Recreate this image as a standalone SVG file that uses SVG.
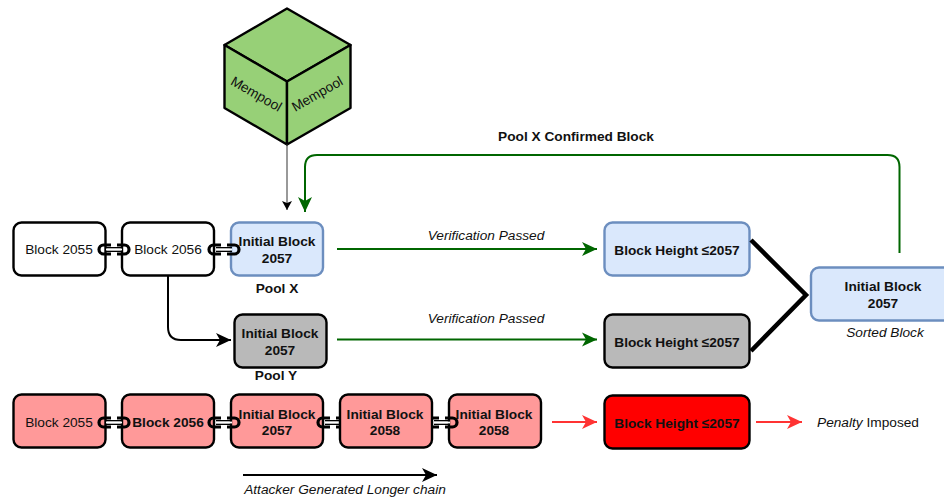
<svg xmlns="http://www.w3.org/2000/svg" width="944" height="500" viewBox="0 0 944 500">
<style>
text{font-family:"Liberation Sans",Arial,sans-serif;font-size:13.7px;fill:#111;text-anchor:middle}
.b{font-weight:bold}
.i{font-style:italic}
.box{stroke:#000;stroke-width:2.4}
.white{fill:#fff}
.blue{fill:#dae8fc;stroke:#6c8ebf}
.gray{fill:#b9b9b9}
.pink{fill:#ff9999}
.red{fill:#ff0000}
.cube{fill:#97d077;stroke:#000;stroke-width:2.4;stroke-linejoin:round}
.g{fill:none;stroke:#006600;stroke-width:2}
.r{fill:none;stroke:#ff3333;stroke-width:2}
.k{fill:none;stroke:#000;stroke-width:2}
</style>
<defs>
<marker id="ag" markerUnits="userSpaceOnUse" markerWidth="16" markerHeight="16" refX="15" refY="7.500" orient="auto"><path d="M0 0.500L15 7.500L0 14.500L4 7.500Z" fill="#006600"/></marker>
<marker id="ar" markerUnits="userSpaceOnUse" markerWidth="16" markerHeight="16" refX="15" refY="7" orient="auto"><path d="M0 0L15 7L0 14L4 7Z" fill="#ff3333"/></marker>
<marker id="ak" markerUnits="userSpaceOnUse" markerWidth="16" markerHeight="16" refX="15" refY="7" orient="auto"><path d="M0 0L15 7L0 14L4 7Z" fill="#000"/></marker>
<marker id="as" markerUnits="userSpaceOnUse" markerWidth="10" markerHeight="12" refX="9" refY="5" orient="auto"><path d="M0 0L9 5L0 10L2 5Z" fill="#000"/></marker>
<g id="lnk">
<path d="M13 1H5.500a4.500 4.500 0 0 0 0 9H13M19 1H26.500a4.500 4.500 0 0 1 0 9H19" fill="none" stroke="#000" stroke-width="3.200"/>
<path d="M8 3.800H24M8 7.200H24" stroke="#000" stroke-width="1.600"/>
<line x1="8" y1="5.500" x2="24" y2="5.500" stroke="#fff" stroke-width="1.800"/>
</g>
</defs>

<g id="mempool">
<path class="cube" d="M287 8.500L350.500 45L287 81.500L224.500 45Z"/>
<path class="cube" d="M224.500 45L287 81.500V144.500L224.500 108Z"/>
<path class="cube" d="M350.500 45L287 81.500V144.500L350.500 108Z"/>
<text transform="translate(256 94.500) rotate(30)" y="4">Mempool</text>
<text transform="translate(317.500 94.500) rotate(-30)" y="4">Mempool</text>
</g>

<g id="b2055a"><rect class="box white" x="13.500" y="222.500" width="92" height="53" rx="8"/><text x="59" y="254">Block 2055</text></g>
<g id="b2056a"><rect class="box white" x="122" y="222.500" width="92" height="53" rx="8"/><text x="168" y="254">Block 2056</text></g>
<g id="b2057x"><rect class="box blue" x="231" y="222.500" width="92" height="53" rx="8"/><text class="b" x="277" y="246">Initial Block</text><text class="b" x="277" y="263">2057</text></g>
<g id="poolx"><text class="b" x="277" y="293">Pool X</text></g>
<g id="b2057y"><rect class="box gray" x="234.500" y="314.500" width="92" height="53" rx="8"/><text class="b" x="280" y="338">Initial Block</text><text class="b" x="280" y="355">2057</text></g>
<g id="pooly"><text class="b" x="276" y="380">Pool Y</text></g>
<g id="hx"><rect class="box blue" x="604.500" y="222.500" width="145" height="53" rx="8"/><text class="b" x="677" y="255">Block Height ≤2057</text></g>
<g id="hy"><rect class="box gray" x="604.500" y="314.500" width="145" height="53" rx="8"/><text class="b" x="677" y="347">Block Height ≤2057</text></g>
<g id="sorted"><rect class="box blue" x="811" y="267.500" width="145" height="53" rx="8"/><text class="b" x="883" y="291">Initial Block</text><text class="b" x="883" y="308">2057</text><text class="i" x="885" y="337">Sorted Block</text></g>

<g id="r2055"><rect class="box pink" x="13.500" y="394.500" width="92" height="53" rx="8"/><text x="59" y="427">Block 2055</text></g>
<g id="r2056"><rect class="box pink" x="122" y="394.500" width="92" height="53" rx="8"/><text class="b" x="168" y="427">Block 2056</text></g>
<g id="r2057"><rect class="box pink" x="231" y="394.500" width="92" height="53" rx="8"/><text class="b" x="277" y="419">Initial Block</text><text class="b" x="277" y="435">2057</text></g>
<g id="r2058b"><rect class="box pink" x="449" y="394.500" width="92" height="53" rx="8"/><text class="b" x="494" y="419">Initial Block</text><text class="b" x="494" y="435">2058</text></g>
<g id="rh"><rect class="box red" x="604.500" y="395.500" width="145" height="53" rx="8"/><text class="b" x="677" y="428">Block Height ≤2057</text></g>

<g id="connectors">
<use href="#lnk" x="98" y="244"/>
<use href="#lnk" x="208" y="244"/>
<use href="#lnk" x="98" y="417"/>
<use href="#lnk" x="208" y="417"/>
<use href="#lnk" x="317" y="417"/>
<use href="#lnk" x="426" y="417"/>
<path d="M287 144.500V210" marker-end="url(#as)" fill="none" style="stroke:#555;stroke-width:1.200"/>
<path class="g" d="M899.500 253V167Q899.500 155 887.500 155H317Q305 155 305 167V212" marker-end="url(#ag)"/>
<path class="k" d="M168 276V327Q168 340 181 340H231" marker-end="url(#ak)"/>
<path class="g" d="M337 249H597" marker-end="url(#ag)"/>
<path class="g" d="M337 339.500H597" marker-end="url(#ag)"/>
<path d="M751 240L806 295L751 351" fill="none" stroke="#000" stroke-width="4.500"/>
<path class="r" d="M552 422H597" marker-end="url(#ar)"/>
<path class="r" d="M756 422H802" marker-end="url(#ar)"/>
<path class="k" d="M243 475H437" marker-end="url(#ak)"/>
</g>

<g id="r2058a"><rect class="box pink" x="340" y="394.500" width="92" height="53" rx="8"/><text class="b" x="385" y="419">Initial Block</text><text class="b" x="385" y="435">2058</text></g>

<g id="labels">
<text class="b" x="576" y="141">Pool X Confirmed Block</text>
<text class="i" x="486" y="240">Verification Passed</text>
<text class="i" x="486" y="323">Verification Passed</text>
<text x="868" y="427"><tspan class="i">Penalty</tspan> Imposed</text>
<text class="i" x="345" y="494">Attacker Generated Longer chain</text>
</g>
</svg>
